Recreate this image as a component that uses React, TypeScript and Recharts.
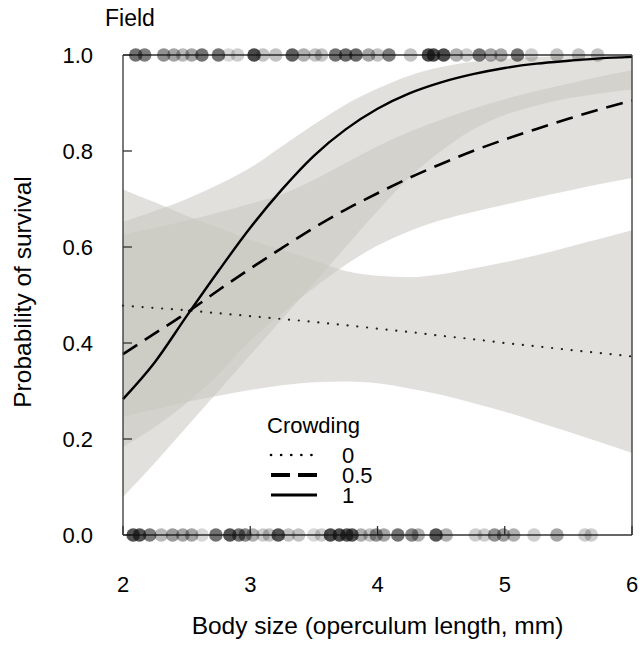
import React from 'react'
import { ComposedChart, Area, Line, Scatter, XAxis, YAxis } from 'recharts'

const FONT = '"Liberation Sans", Arial, sans-serif'

// body size grid used for the fitted curves
const sizeGrid = [2, 2.25, 2.5, 2.75, 3, 3.25, 3.5, 3.75, 4, 4.25, 4.5, 4.75, 5, 5.25, 5.5, 5.75, 6]

// fitted probability of survival for crowding 0 / 0.5 / 1
const fit0 = [0.478, 0.473, 0.468, 0.462, 0.456, 0.45, 0.444, 0.437, 0.43, 0.423, 0.415, 0.408, 0.4, 0.393, 0.386, 0.379, 0.372]
const fit05 = [0.377, 0.42, 0.463, 0.51, 0.555, 0.598, 0.64, 0.678, 0.712, 0.744, 0.773, 0.8, 0.824, 0.846, 0.867, 0.887, 0.905]
const fit1 = [0.283, 0.36, 0.456, 0.55, 0.64, 0.72, 0.79, 0.845, 0.888, 0.92, 0.943, 0.96, 0.973, 0.982, 0.988, 0.993, 0.996]

// confidence bands
const lo0 = [0.246, 0.262, 0.277, 0.29, 0.302, 0.312, 0.318, 0.32, 0.316, 0.305, 0.292, 0.275, 0.257, 0.236, 0.215, 0.193, 0.171]
const hi0 = [0.72, 0.693, 0.665, 0.64, 0.615, 0.594, 0.572, 0.55, 0.54, 0.537, 0.543, 0.555, 0.568, 0.583, 0.6, 0.617, 0.635]
const lo05 = [0.183, 0.225, 0.275, 0.335, 0.405, 0.462, 0.515, 0.563, 0.603, 0.633, 0.656, 0.673, 0.688, 0.703, 0.717, 0.731, 0.744]
const hi05 = [0.625, 0.64, 0.655, 0.672, 0.69, 0.71, 0.74, 0.775, 0.81, 0.84, 0.865, 0.888, 0.908, 0.925, 0.94, 0.955, 0.968]
const lo1 = [0.079, 0.15, 0.225, 0.3, 0.375, 0.45, 0.525, 0.6, 0.675, 0.745, 0.8, 0.845, 0.875, 0.895, 0.91, 0.92, 0.928]
const hi1 = [0.652, 0.675, 0.7, 0.73, 0.765, 0.81, 0.855, 0.897, 0.93, 0.957, 0.975, 0.986, 0.992, 0.996, 0.998, 0.999, 1.0]

// observed fish: survived (1) and died (0), with point darkness
const survivedX = [2.1, 2.17, 2.32, 2.4, 2.47, 2.54, 2.62, 2.75, 2.83, 2.9, 3.03, 3.1, 3.2, 3.33, 3.42, 3.51, 3.56, 3.67, 3.75, 3.83, 3.93, 4.0, 4.09, 4.26, 4.4, 4.44, 4.52, 4.62, 4.7, 4.8, 4.89, 4.97, 5.1, 5.21, 5.41, 5.58, 5.73]
const survivedShade = [0.7, 0.65, 0.55, 0.45, 0.35, 0.45, 0.7, 0.7, 0.2, 0.25, 0.9, 0.3, 0.3, 0.8, 0.4, 0.3, 0.3, 0.7, 0.75, 0.75, 0.45, 0.3, 0.65, 0.3, 0.9, 0.9, 0.9, 0.4, 0.25, 0.7, 0.45, 0.45, 0.7, 0.25, 0.3, 0.3, 0.3]
const diedX = [2.08, 2.13, 2.21, 2.3, 2.39, 2.47, 2.54, 2.62, 2.73, 2.84, 2.91, 2.96, 3.02, 3.1, 3.15, 3.22, 3.3, 3.38, 3.5, 3.56, 3.63, 3.7, 3.76, 3.8, 3.87, 3.94, 3.99, 4.05, 4.16, 4.27, 4.32, 4.46, 4.54, 4.77, 4.84, 4.92, 4.99, 5.07, 5.23, 5.41, 5.63, 5.68]
const diedShade = [0.85, 0.85, 0.65, 0.35, 0.5, 0.45, 0.45, 0.2, 0.7, 0.85, 0.7, 0.6, 0.4, 0.25, 0.3, 0.85, 0.3, 0.3, 0.2, 0.25, 0.9, 0.9, 0.85, 0.85, 0.4, 0.3, 0.55, 0.45, 0.7, 0.6, 0.4, 0.85, 0.4, 0.25, 0.25, 0.55, 0.5, 0.4, 0.25, 0.45, 0.25, 0.25]

const xTicks = [2, 3, 4, 5, 6]
const yTicks = [0, 0.2, 0.4, 0.6, 0.8, 1]

const crowdingLevels = ['0', '0.5', '1']

const table = sizeGrid.map((x, i) => ({
  x,
  fit0: fit0[i],
  fit05: fit05[i],
  fit1: fit1[i],
  band0: [lo0[i], hi0[i]],
  band05: [lo05[i], hi05[i]],
  band1: [lo1[i], hi1[i]],
}))

const survived = survivedX.map((x, i) => ({ x, y: 1, s: survivedShade[i] }))
const died = diedX.map((x, i) => ({ x, y: 0, s: diedShade[i] }))

const Dot = (props: any) => {
  const { cx, cy, payload } = props
  return <circle cx={cx} cy={cy} r={6.8} fill="#111" fillOpacity={payload.s * 0.85} />
}

const XTick = (props: any) => (
  <text x={props.x} y={props.y} dy="0.71em" textAnchor="middle" fontSize={22} fontFamily={FONT} fill="#000">
    {props.payload.value}
  </text>
)

const YTick = (props: any) => (
  <text x={props.x} y={props.y} dy="0.36em" textAnchor="end" fontSize={22} fontFamily={FONT} fill="#000">
    {Number(props.payload.value).toFixed(1)}
  </text>
)

const bandFill = '#c9c6c0'
const axisStroke = '#333'

// line styles for the crowding key (same as the series)
const keyStyles = [
  { dash: '0.1 10', w: 2.6 },
  { dash: '19 8', w: 4 },
  { dash: undefined, w: 3 },
]

const LegendKey = () => (
  <svg width={130} height={110} style={{ position: 'absolute', left: 260, top: 405 }}
    fontFamily={FONT}>
    <text x={7} y={28} fontSize={22} fill="#000">Crowding</text>
    {crowdingLevels.map((lab, i) => (
      <g key={lab}>
        <line x1={11} x2={57} y1={50 + i * 20} y2={50 + i * 20} stroke="#000"
          strokeWidth={keyStyles[i].w} strokeDasharray={keyStyles[i].dash} strokeLinecap={i === 0 ? 'round' : 'butt'} />
        <text x={82} y={50 + i * 20 + 8} fontSize={22} fill="#000">{lab}</text>
      </g>
    ))}
  </svg>
)

export default function App() {
  return (
    <div style={{ position: 'absolute', left: 0, top: 0, width: 642, height: 645, background: '#fff' }}>
      <div style={{ position: 'absolute', left: 105, top: 5, fontFamily: FONT, fontSize: 23 }}>Field</div>
      <ComposedChart width={642} height={645} data={table}
        margin={{ top: 54, right: 9, bottom: 0, left: 0 }}>
        <XAxis dataKey="x" type="number" domain={[2, 6]} ticks={xTicks}
          stroke={axisStroke} strokeWidth={1.3} tickSize={-9} tickMargin={50}
          tick={XTick} height={110} interval={0}
          label={{
            content: (p: any) => {
              const vb = p.viewBox
              return (
                <text x={vb.x + vb.width / 2} y={634} textAnchor="middle"
                  style={{ fontSize: 24.5, fontFamily: FONT }} fill="#000">
                  Body size (operculum length, mm)
                </text>
              )
            },
          }} />
        <XAxis xAxisId="top" orientation="top" dataKey="x" type="number" domain={[2, 6]} ticks={xTicks}
          stroke={axisStroke} strokeWidth={1.3} tickSize={-9} tick={false} height={1} interval={0} />
        <YAxis type="number" domain={[0, 1]} ticks={yTicks} interval={0}
          stroke={axisStroke} strokeWidth={1.3} tickSize={-9} tickMargin={39} tick={YTick} width={123}
          label={{
            content: (p: any) => {
              const vb = p.viewBox
              const cx = 22
              const cy = vb.y + vb.height / 2 - 3
              return (
                <text x={cx} y={cy} transform={`rotate(-90 ${cx} ${cy})`} textAnchor="middle"
                  dominantBaseline="central" style={{ fontSize: 24.5, fontFamily: FONT }} fill="#000">
                  Probability of survival
                </text>
              )
            },
          }} />
        <YAxis yAxisId="right" orientation="right" type="number" domain={[0, 1]} ticks={yTicks} interval={0}
          stroke={axisStroke} strokeWidth={1.3} tickSize={-9} tick={false} width={1} />

        <Area dataKey="band0" type="monotone" fill={bandFill} fillOpacity={0.55} stroke="none" isAnimationActive={false} activeDot={false} />
        <Area dataKey="band05" type="monotone" fill={bandFill} fillOpacity={0.55} stroke="none" isAnimationActive={false} activeDot={false} />
        <Area dataKey="band1" type="monotone" fill={bandFill} fillOpacity={0.55} stroke="none" isAnimationActive={false} activeDot={false} />

        <Line dataKey="fit0" type="monotone" stroke="#222" strokeWidth={2.2} strokeDasharray="0.1 9.7" strokeLinecap="round" dot={false} activeDot={false} isAnimationActive={false} />
        <Line dataKey="fit05" type="monotone" stroke="#000" strokeWidth={2.6} strokeDasharray="17 9" dot={false} activeDot={false} isAnimationActive={false} />
        <Line dataKey="fit1" type="monotone" stroke="#000" strokeWidth={2.4} dot={false} activeDot={false} isAnimationActive={false} />

        <Scatter data={survived} dataKey="y" shape={Dot} isAnimationActive={false} />
        <Scatter data={died} dataKey="y" shape={Dot} isAnimationActive={false} />
      </ComposedChart>
      <LegendKey />
    </div>
  )
}
